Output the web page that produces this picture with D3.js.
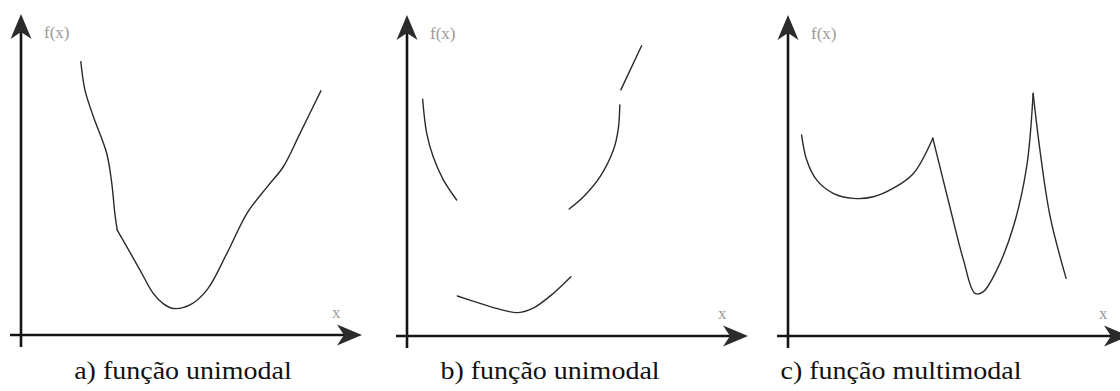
<!DOCTYPE html>
<html lang="pt">
<head>
    <meta charset="UTF-8">
    <title>Funções unimodal e multimodal</title>
    <script src="https://d3js.org/d3.v7.min.js"></script>
    <style>
        body { margin: 0; background: #fff; }
        .curve { fill: none; stroke: #2a2a2a; stroke-width: 1.4; stroke-linecap: round; }
        .axis-line { stroke: #151515; stroke-width: 2.6; }
    </style>
</head>
<body>
<svg width="1120" height="391"></svg>
<script>
// curves, in axis units (x 0..10, y 0..10), one array per stroke
const curveA1 = [
    [1.76, 8.54], [1.88, 7.66], [2.13, 6.82], [2.52, 5.68], [2.67, 4.74], [2.76, 3.8], [2.83, 3.28]
];
const curveA2 = [
    [2.83, 3.28], [3.11, 2.76], [3.5, 2.03], [3.89, 1.3], [4.18, 0.98], [4.48, 0.83], [4.97, 0.94],
    [5.47, 1.41], [6.06, 2.56], [6.65, 3.81], [7.24, 4.63], [7.71, 5.25], [8.21, 6.31], [8.82, 7.63]
];

const curveB1 = [[0.46, 7.4], [0.58, 6.33], [0.77, 5.6], [1.07, 4.88], [1.46, 4.25]];
const curveB2 = [[1.48, 1.25], [2.15, 1.02], [2.74, 0.83], [3.27, 0.73], [3.71, 0.87], [4.3, 1.33], [4.82, 1.85]];
const curveB3 = [[4.77, 3.97], [5.19, 4.35], [5.68, 4.98], [6.07, 5.81], [6.21, 6.44], [6.26, 7.22]];
const curveB4 = [[6.29, 7.69], [6.9, 9.07]];

const curveC1 = [[0.4, 6.28], [0.55, 5.5], [0.84, 4.88], [1.33, 4.46], [1.92, 4.3], [2.51, 4.35], [3.1, 4.62], [3.69, 5.08], [4.26, 6.18]];
const curveC2 = [[4.26, 6.18], [4.76, 4.04], [5.16, 2.38], [5.5, 1.33], [5.74, 1.38], [6.14, 2.06], [6.63, 3.42], [7.02, 5.29], [7.21, 7.58]];
const curveC3 = [[7.21, 7.58], [7.41, 5.81], [7.71, 3.73], [8.18, 1.8]];

const captions = ["a) função unimodal", "b) função unimodal", "c) função multimodal"];
const yLabel = "f(x)";
const xLabel = "x";

const serif = "'Liberation Serif', 'Times New Roman', 'DejaVu Serif', serif";

const panels = [
    { ox: 21, oy: 335, curves: [curveA1, curveA2], caption: captions[0], cx: 183 },
    { ox: 407, oy: 336, curves: [curveB1, curveB2, curveB3, curveB4], caption: captions[1], cx: 550 },
    { ox: 788, oy: 336, curves: [curveC1, curveC2, curveC3], caption: captions[2], cx: 901 }
];

const svg = d3.select("svg");

const x = d3.scaleLinear().domain([0, 10]).range([0, 340]);
const y = d3.scaleLinear().domain([0, 10]).range([0, -320]);

const line = d3.line()
    .x(d => x(d[0]))
    .y(d => y(d[1]))
    .curve(d3.curveCatmullRom.alpha(0.5));

// notched arrowhead pointing right, tip at (0,0)
const arrowPath = "M0,0 L-25,-10.5 L-18,0 L-25,10.5 Z";

panels.forEach(p => {
    const g = svg.append("g").attr("transform", `translate(${p.ox},${p.oy})`);

    // axes
    g.append("line").attr("class", "axis-line")
        .attr("x1", -11).attr("y1", 0).attr("x2", 330).attr("y2", 0);
    g.append("line").attr("class", "axis-line")
        .attr("x1", 0).attr("y1", 12).attr("x2", 0).attr("y2", -308);

    g.append("path").attr("d", arrowPath).attr("fill", "#2b2b2b")
        .attr("transform", "translate(341,0)");
    g.append("path").attr("d", arrowPath).attr("fill", "#2b2b2b")
        .attr("transform", "translate(0,-321) rotate(-90)");

    g.append("text")
        .attr("font-family", serif).attr("font-size", 17).attr("fill", "#9a9a9a")
        .attr("x", 23).attr("y", -297).text(yLabel);
    g.append("text")
        .attr("font-family", serif).attr("font-size", 17).attr("fill", "#9a9a9a")
        .attr("x", 311).attr("y", -17).text(xLabel);

    p.curves.forEach(c => {
        g.append("path").datum(c).attr("class", "curve").attr("d", line);
    });

    // the scanned captions are a bit wider than plain Times
    svg.append("text")
        .attr("font-family", serif).attr("font-size", 25).attr("fill", "#111")
        .attr("transform", `translate(${p.cx},379) scale(1.12,1)`)
        .attr("text-anchor", "middle")
        .text(p.caption);
});
</script>
</body>
</html>
